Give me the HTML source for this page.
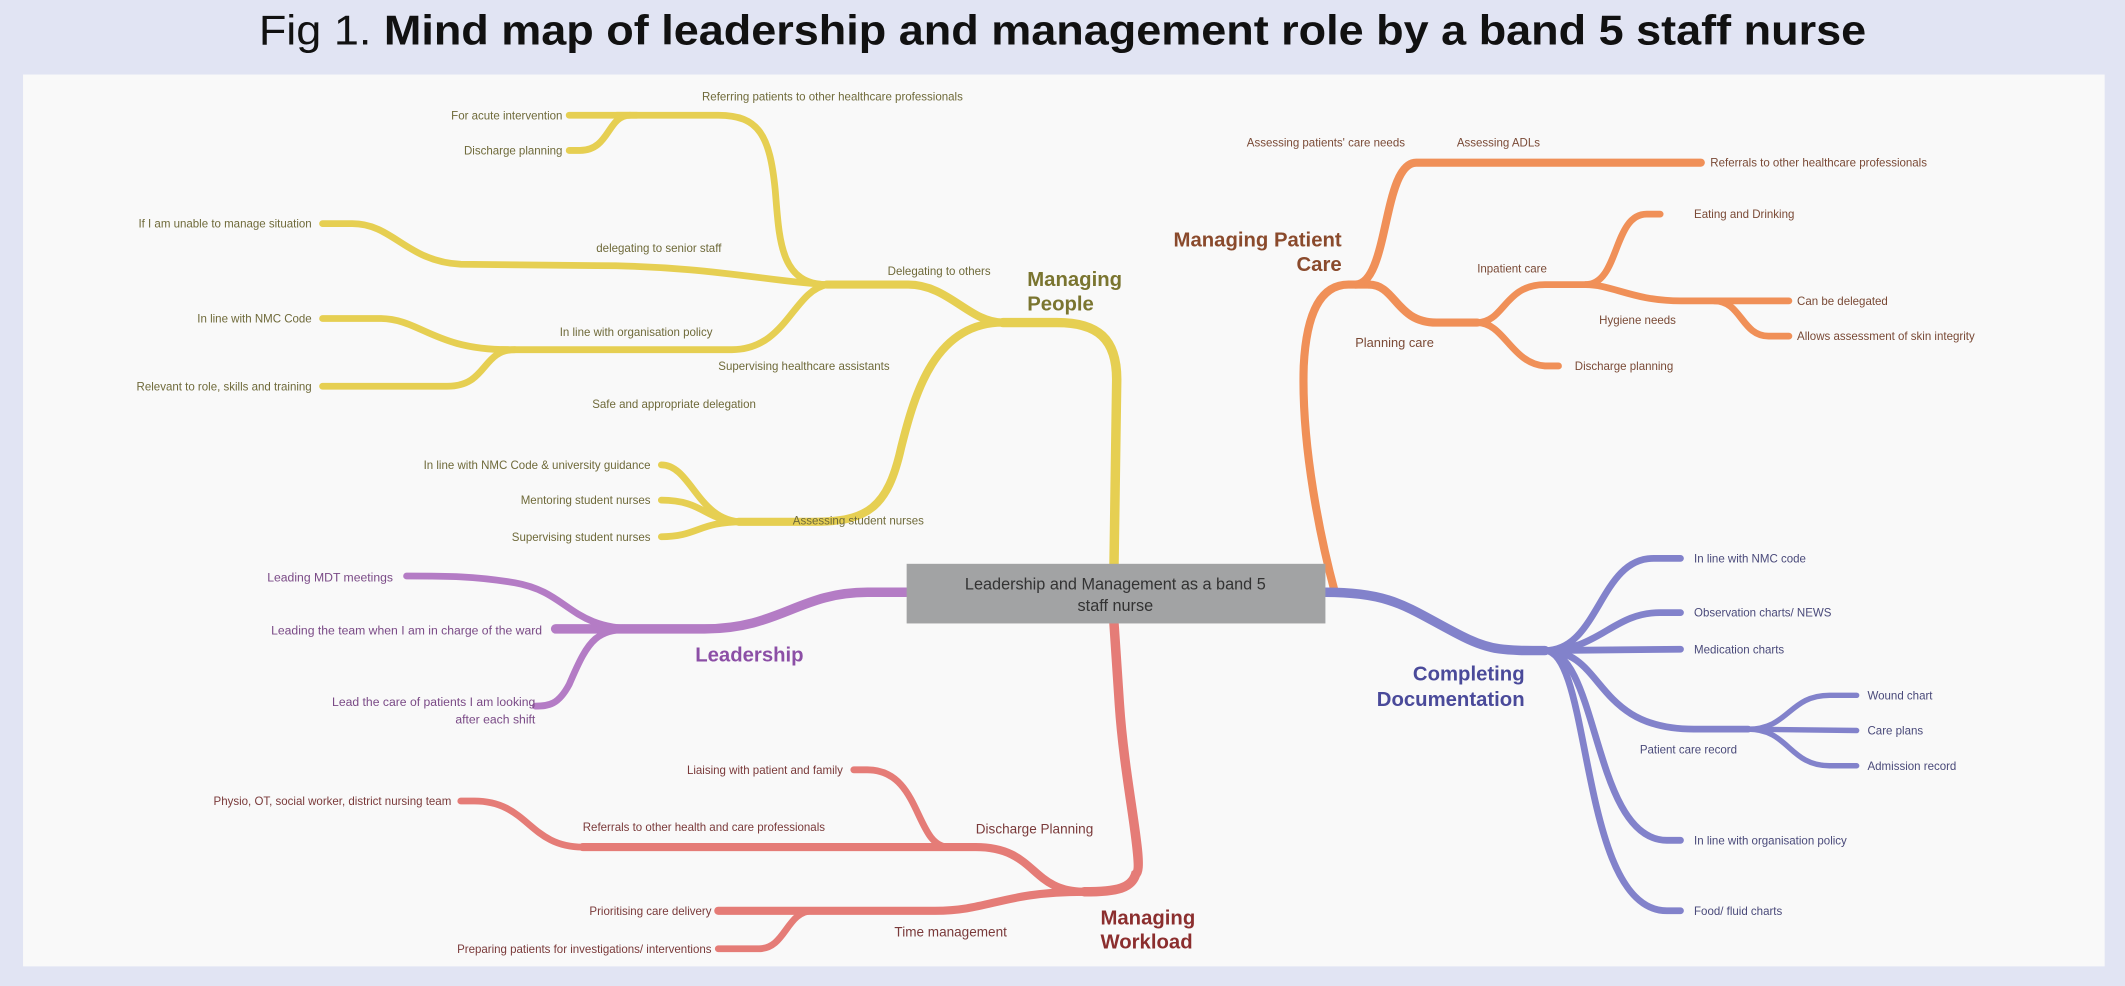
<!DOCTYPE html>
<html><head><meta charset="utf-8"><style>
html,body{margin:0;padding:0;background:#e1e4f3;}
svg{display:block}
text{font-family:"Liberation Sans",sans-serif;}
</style></head><body>
<svg width="2125" height="986" viewBox="0 0 1568 727.5" preserveAspectRatio="none" xmlns="http://www.w3.org/2000/svg">
<rect x="0" y="0" width="1568" height="727.5" fill="#e1e4f3"/>
<text x="784" y="33" text-anchor="middle" font-size="31" fill="#111" textLength="1186" lengthAdjust="spacingAndGlyphs"><tspan font-weight="300">Fig 1. </tspan><tspan font-weight="bold">Mind map of leadership and management role by a band 5 staff nurse</tspan></text>
<rect x="17" y="55" width="1536" height="658" fill="#f9f9f9"/>

<g fill="none" stroke-linecap="round">
<!-- Yellow -->
<g stroke="#e6cf52">
<path d="M822 417 L824 280 C824 250 810 238 780 238 L740 238" stroke-width="7"/>
<path d="M740 238 C715 238 700 210 670 210 L610 210" stroke-width="6"/>
<path d="M610 210 C575 210 575 175 572 140 C568 100 560 85 530 85 L455 85" stroke-width="5"/>
<path d="M470 85 L420 85" stroke-width="5"/>
<path d="M465 85 C448 85 450 111 428 111 L420 111" stroke-width="5"/>
<path d="M610 210 C570 208 520 196 440 196 L340 195 C300 193 290 165 260 165 L238 165" stroke-width="5"/>
<path d="M610 210 C585 215 580 258 540 258 L370 258" stroke-width="5"/>
<path d="M375 258 C320 258 310 235 280 235 L238 235" stroke-width="5"/>
<path d="M380 258 C355 258 360 285 330 285 L238 285" stroke-width="5"/>
<path d="M740 238 C690 238 675 290 665 330 C655 375 640 385 600 385 L545 385" stroke-width="6"/>
<path d="M548 385 C515 385 510 343 488 343" stroke-width="5"/>
<path d="M548 385 C520 385 520 369 488 369" stroke-width="5"/>
<path d="M548 385 C515 385 515 396 488 396" stroke-width="5"/>
</g>
<!-- Purple -->
<g stroke="#b47cc5">
<path d="M670 437 L640 437 C590 437 575 464 520 464 L410 464" stroke-width="7"/>
<path d="M470 464 C420 464 420 437 380 430 C350 425 330 425 300 425" stroke-width="5"/>
<path d="M470 464 C440 464 435 470 420 505 C412 520 405 521 395 521" stroke-width="5"/>
</g>
<!-- Red -->
<g stroke="#e57c77">
<path d="M822 460 L826 520 C830 580 845 640 838 645 C835 655 825 658 800 658" stroke-width="7"/>
<path d="M800 658 C760 658 765 625 720 625 L430 625" stroke-width="6"/>
<path d="M700 625 C675 625 680 568 640 568 L630 568" stroke-width="5"/>
<path d="M430 625 C390 625 390 591 350 591 L340 591" stroke-width="5"/>
<path d="M800 658 C740 658 730 672 690 672 L530 672" stroke-width="6"/>
<path d="M600 672 C580 672 580 700 560 700 L530 700" stroke-width="5"/>
</g>
<!-- Orange -->
<g stroke="#f09058">
<path d="M985 437 C975 400 960 330 962 270 C964 230 975 210 995 210 L1010 210" stroke-width="6"/>
<path d="M1000 210 C1025 210 1020 120 1045 120 L1255 120" stroke-width="6"/>
<path d="M1010 210 C1030 210 1030 238 1060 238 L1090 238" stroke-width="6"/>
<path d="M1090 238 C1110 238 1110 210 1140 210 L1170 210" stroke-width="5"/>
<path d="M1170 210 C1195 210 1190 158 1215 158 L1225 158" stroke-width="5"/>
<path d="M1170 210 C1190 210 1205 222 1240 222 L1320 222" stroke-width="5"/>
<path d="M1265 222 C1285 222 1285 248 1305 248 L1320 248" stroke-width="5"/>
<path d="M1090 238 C1110 238 1115 268 1140 270 L1150 270" stroke-width="5"/>
</g>
<!-- Blue -->
<g stroke="#8282cb">
<path d="M978 437 C1030 437 1040 450 1080 470 C1100 480 1110 480 1140 480" stroke-width="7"/>
<path d="M1140 480 C1180 480 1180 412 1220 412 L1240 412" stroke-width="5"/>
<path d="M1140 480 C1180 480 1190 452 1225 452 L1240 452" stroke-width="5"/>
<path d="M1140 480 L1240 479" stroke-width="5"/>
<path d="M1140 480 C1185 480 1175 538 1250 538 L1290 538" stroke-width="5"/>
<path d="M1290 538 C1320 538 1320 513 1350 513 L1370 513" stroke-width="4"/>
<path d="M1290 538 L1370 539" stroke-width="4"/>
<path d="M1290 538 C1320 538 1320 565 1350 565 L1370 565" stroke-width="4"/>
<path d="M1140 480 C1180 480 1175 620 1230 620 L1240 620" stroke-width="5"/>
<path d="M1140 480 C1175 480 1165 672 1230 672 L1240 672" stroke-width="5"/>
</g>
</g>

<rect x="669" y="416" width="309" height="44" fill="#a2a3a4"/>
<text x="823" y="435" text-anchor="middle" font-size="12" fill="#333">Leadership and Management as a band 5</text>
<text x="823" y="451" text-anchor="middle" font-size="12" fill="#333">staff nurse</text>

<g font-size="8.5" fill="#6f6a3a">
<text x="518" y="74">Referring patients to other healthcare professionals</text>
<text x="415" y="88" text-anchor="end">For acute intervention</text>
<text x="415" y="114" text-anchor="end">Discharge planning</text>
<text x="230" y="168" text-anchor="end">If I am unable to manage situation</text>
<text x="440" y="186">delegating to senior staff</text>
<text x="655" y="203">Delegating to others</text>
<text x="230" y="238" text-anchor="end">In line with NMC Code</text>
<text x="413" y="248">In line with organisation policy</text>
<text x="530" y="273">Supervising healthcare assistants</text>
<text x="230" y="288" text-anchor="end">Relevant to role, skills and training</text>
<text x="437" y="301">Safe and appropriate delegation</text>
<text x="480" y="346" text-anchor="end">In line with NMC Code &amp; university guidance</text>
<text x="480" y="372" text-anchor="end">Mentoring student nurses</text>
<text x="480" y="399" text-anchor="end">Supervising student nurses</text>
<text x="585" y="387">Assessing student nurses</text>
</g>
<text x="758" y="211" font-size="15" font-weight="bold" fill="#7a7530">Managing</text>
<text x="758" y="229" font-size="15" font-weight="bold" fill="#7a7530">People</text>

<g font-size="9" fill="#7a4a86">
<text x="290" y="429" text-anchor="end">Leading MDT meetings</text>
<text x="400" y="468" text-anchor="end">Leading the team when I am in charge of the ward</text>
<text x="395" y="521" text-anchor="end">Lead the care of patients I am looking</text>
<text x="395" y="534" text-anchor="end">after each shift</text>
</g>
<text x="513" y="488" font-size="15" font-weight="bold" fill="#8c4fa6">Leadership</text>

<g font-size="8.5" fill="#7a3a3a">
<text x="622" y="571" text-anchor="end">Liaising with patient and family</text>
<text x="333" y="594" text-anchor="end">Physio, OT, social worker, district nursing team</text>
<text x="430" y="613">Referrals to other health and care professionals</text>
<text x="720" y="615" font-size="10">Discharge Planning</text>
<text x="525" y="675" text-anchor="end">Prioritising care delivery</text>
<text x="525" y="703" text-anchor="end">Preparing patients for investigations/ interventions</text>
<text x="660" y="691" font-size="10">Time management</text>
</g>
<text x="812" y="682" font-size="15" font-weight="bold" fill="#8b2e2e">Managing</text>
<text x="812" y="700" font-size="15" font-weight="bold" fill="#8b2e2e">Workload</text>

<g font-size="8.5" fill="#7a4a36">
<text x="920" y="108">Assessing patients' care needs</text>
<text x="1075" y="108">Assessing ADLs</text>
<text x="1262" y="123">Referrals to other healthcare professionals</text>
<text x="1250" y="161">Eating and Drinking</text>
<text x="1090" y="201">Inpatient care</text>
<text x="1326" y="225">Can be delegated</text>
<text x="1180" y="239">Hygiene needs</text>
<text x="1326" y="251">Allows assessment of skin integrity</text>
<text x="1000" y="256" font-size="9.5">Planning care</text>
<text x="1162" y="273">Discharge planning</text>
</g>
<text x="990" y="182" text-anchor="end" font-size="15" font-weight="bold" fill="#8a4a2c">Managing Patient</text>
<text x="990" y="200" text-anchor="end" font-size="15" font-weight="bold" fill="#8a4a2c">Care</text>

<g font-size="8.5" fill="#4a4a7a">
<text x="1250" y="415">In line with NMC code</text>
<text x="1250" y="455">Observation charts/ NEWS</text>
<text x="1250" y="482">Medication charts</text>
<text x="1378" y="516">Wound chart</text>
<text x="1378" y="542">Care plans</text>
<text x="1210" y="556">Patient care record</text>
<text x="1378" y="568">Admission record</text>
<text x="1250" y="623">In line with organisation policy</text>
<text x="1250" y="675">Food/ fluid charts</text>
</g>
<text x="1125" y="502" text-anchor="end" font-size="15" font-weight="bold" fill="#4a4a9a">Completing</text>
<text x="1125" y="521" text-anchor="end" font-size="15" font-weight="bold" fill="#4a4a9a">Documentation</text>
</svg>
</body></html>
